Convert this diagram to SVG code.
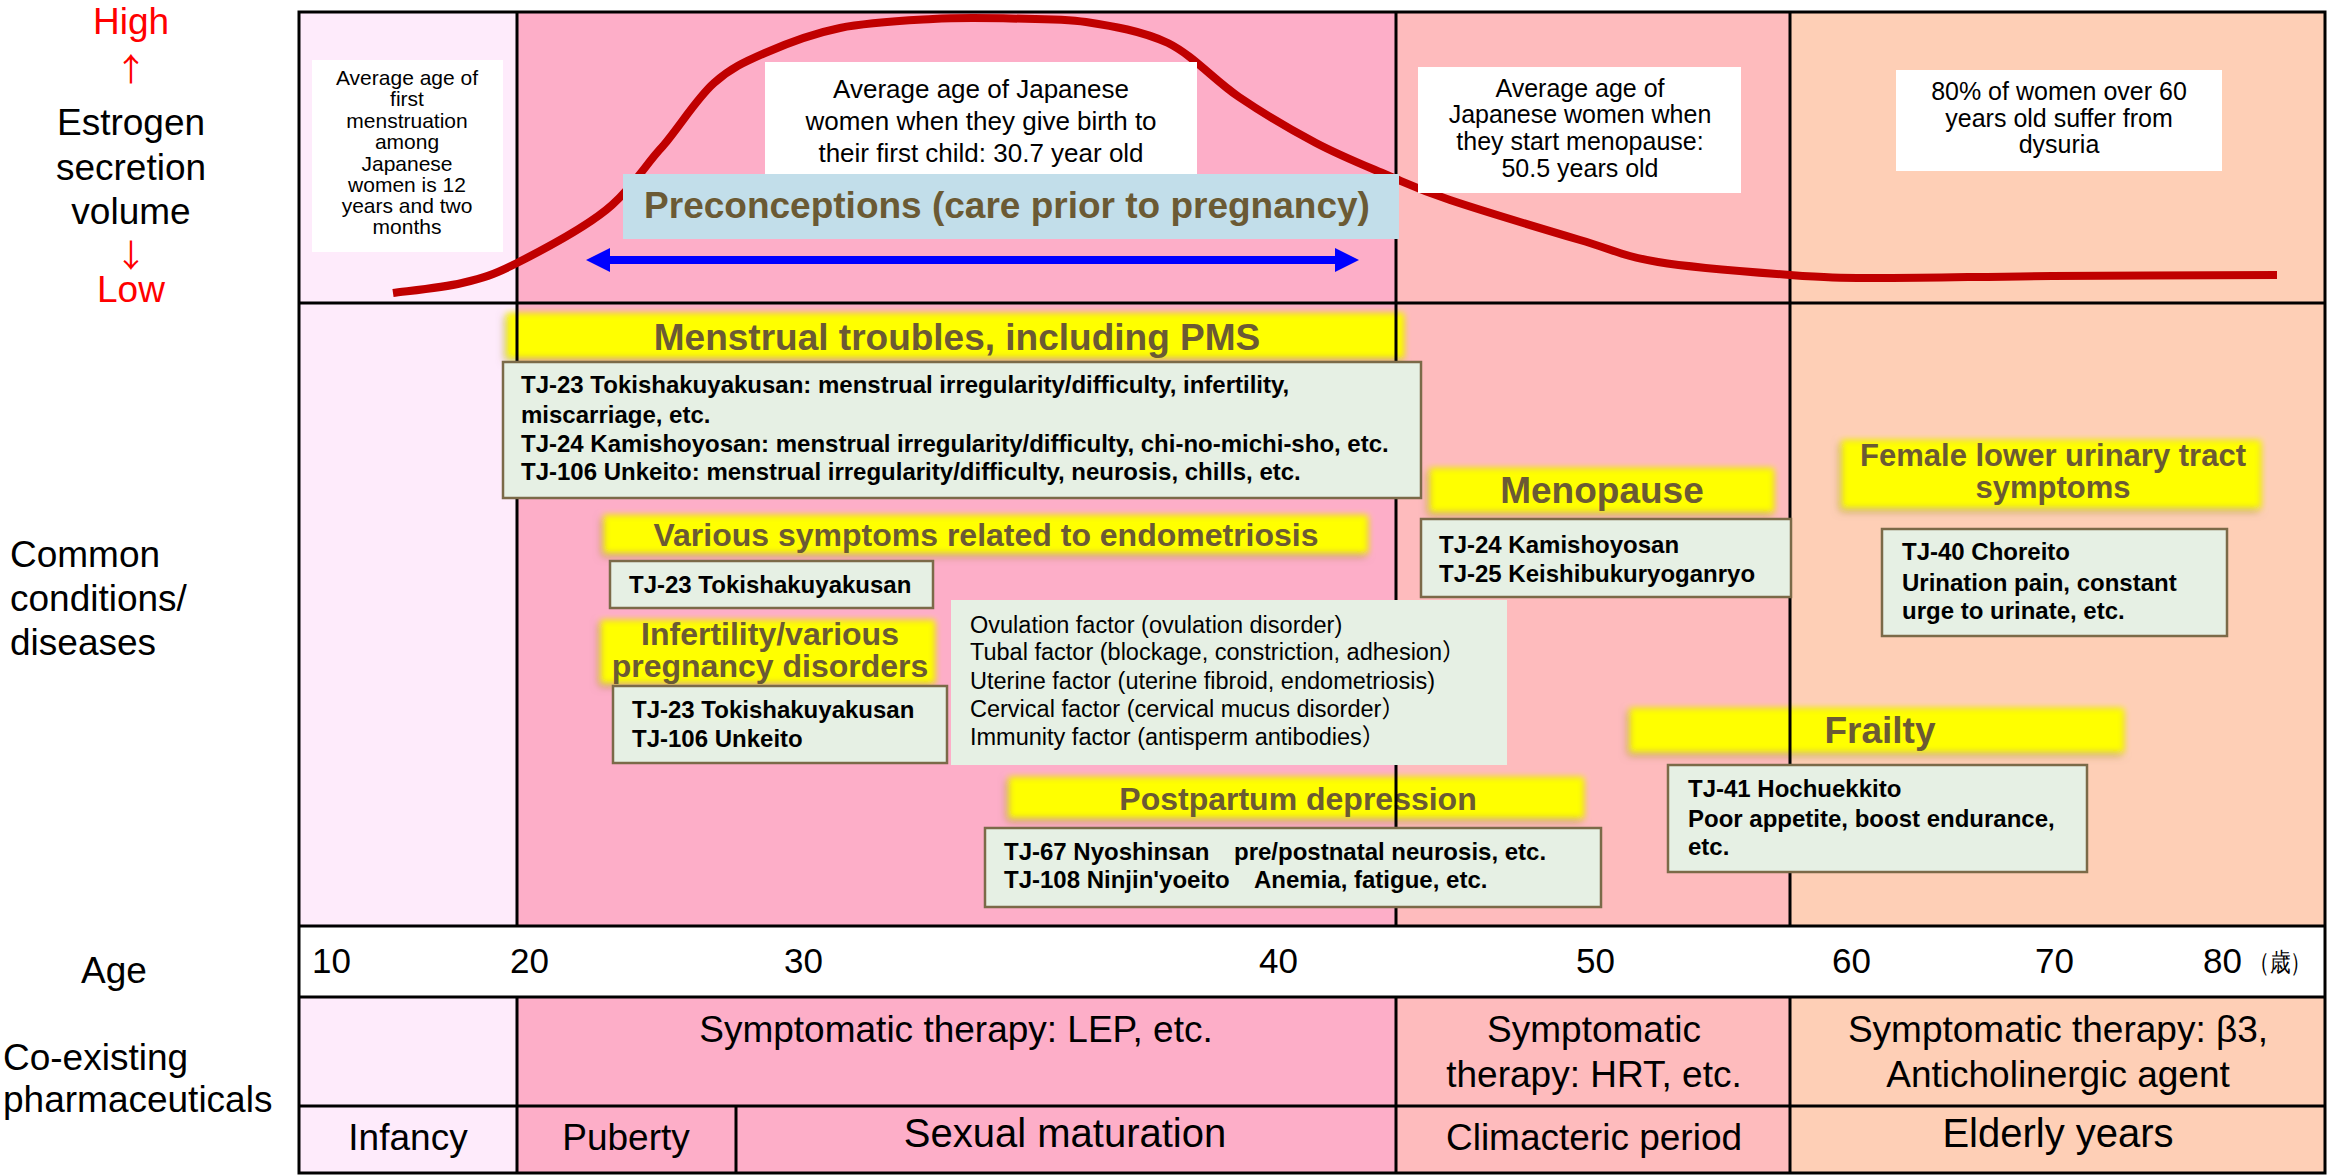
<svg xmlns="http://www.w3.org/2000/svg" width="2331" height="1175" viewBox="0 0 2331 1175">
<defs>
<style>
text{font-family:"Liberation Sans",Arial,sans-serif;fill:#000}
.lbl{font-size:37px}
.mid{text-anchor:middle}
.red{fill:#ff0000}
.arw{font-family:"Noto Sans CJK JP","Noto Sans CJK SC",sans-serif;font-size:32px}
.n21{font-size:21px}
.n26{font-size:26px}
.n25{font-size:25px}
.hlr{fill:#ffff00;filter:url(#glow)}
.hlt{font-weight:bold;fill:#6b5a34;text-anchor:middle}
.gb{fill:#e6f0e4;stroke:#7b6a48;stroke-width:2.5}
.gt{font-size:24px;font-weight:bold}
.ft{font-size:23.5px}
.grid{stroke:#000;stroke-width:3;fill:none}
.wb{fill:#ffffff}
.age{font-size:35px}
.c1{fill:#feebfb}.c2{fill:#fdaec8}.c3{fill:#febbbd}.c4{fill:#fecfb6}
</style>
<filter id="glow" x="-6%" y="-45%" width="112%" height="200%">
<feGaussianBlur in="SourceAlpha" stdDeviation="4" result="b"/>
<feOffset in="b" dx="-2" dy="3" result="o"/>
<feFlood flood-color="#7a6a30" flood-opacity="0.55"/>
<feComposite in2="o" operator="in" result="s"/>
<feGaussianBlur in="SourceGraphic" stdDeviation="3" result="y"/>
<feMerge><feMergeNode in="s"/><feMergeNode in="y"/></feMerge>
</filter>
<marker id="ah" viewBox="0 0 24 24" markerWidth="24" markerHeight="24" refX="0" refY="12" orient="auto-start-reverse" markerUnits="userSpaceOnUse">
<path d="M0,0 L24,12 L0,24 z" fill="#0000ff"/>
</marker>
</defs>

<g id="backgrounds">
<rect class="c1" x="299" y="12" width="218" height="914"/>
<rect class="c2" x="517" y="12" width="879" height="914"/>
<rect class="c3" x="1396" y="12" width="394" height="914"/>
<rect class="c4" x="1790" y="12" width="535" height="914"/>
<rect class="wb" x="299" y="926" width="2026" height="71"/>
<rect class="c1" x="299" y="997" width="218" height="176"/>
<rect class="c2" x="517" y="997" width="879" height="176"/>
<rect class="c3" x="1396" y="997" width="394" height="176"/>
<rect class="c4" x="1790" y="997" width="535" height="176"/>
</g>

<g id="row-labels">
<g id="label-estrogen">
<text class="lbl mid red" x="131" y="34">High</text>
<text class="arw mid red" x="131" y="81">↑</text>
<text class="lbl mid" x="131" y="135">Estrogen</text>
<text class="lbl mid" x="131" y="180">secretion</text>
<text class="lbl mid" x="131" y="224">volume</text>
<text class="arw mid red" x="131" y="267" font-size="30">↓</text>
<text class="lbl mid red" x="131" y="302">Low</text>
</g>
<g id="label-conditions">
<text class="lbl" x="10" y="567">Common</text>
<text class="lbl" x="10" y="611">conditions/</text>
<text class="lbl" x="10" y="655">diseases</text>
</g>
<g id="label-age"><text class="lbl mid" x="114" y="983">Age</text></g>
<g id="label-pharma">
<text class="lbl" x="3" y="1070">Co-existing</text>
<text class="lbl" x="3" y="1112">pharmaceuticals</text>
</g>
</g>

<g id="hl-menstrual"><rect class="hlr" x="507" y="313" width="897" height="45"/><text class="hlt" x="957" y="350" font-size="37">Menstrual troubles, including PMS</text></g>
<g id="hl-endometriosis"><rect class="hlr" x="604" y="515" width="764" height="38"/><text class="hlt" x="986" y="546" font-size="32">Various symptoms related to endometriosis</text></g>
<g id="hl-infertility"><rect class="hlr" x="601" y="620" width="334" height="63"/><text class="hlt" x="770" y="645" font-size="32">Infertility/various</text><text class="hlt" x="770" y="677" font-size="32">pregnancy disorders</text></g>
<g id="hl-postpartum"><rect class="hlr" x="1009" y="777" width="575" height="41"/><text class="hlt" x="1298" y="810" font-size="32">Postpartum depression</text></g>
<g id="hl-menopause"><rect class="hlr" x="1430" y="468" width="344" height="44"/><text class="hlt" x="1602" y="503" font-size="37">Menopause</text></g>
<g id="hl-urinary"><rect class="hlr" x="1842" y="440" width="419" height="68"/><text class="hlt" x="2053" y="466" font-size="31">Female lower urinary tract</text><text class="hlt" x="2053" y="498" font-size="31">symptoms</text></g>
<g id="hl-frailty"><rect class="hlr" x="1630" y="708" width="494" height="44"/><text class="hlt" x="1880" y="743" font-size="37">Frailty</text></g>

<g id="grid">
<rect class="grid" x="299" y="12" width="2026" height="1161"/>
<path class="grid" d="M299,303H2325M299,926H2325M299,997H2325M299,1106H2325"/>
<path class="grid" d="M517,12V926M517,997V1173M1396,12V926M1396,997V1173M1790,12V926M1790,997V1173M736,1106V1173"/>
</g>

<g id="curve-estrogen">
<path d="M393,293 C404.5,291.3 441.3,288 462,283 C482.7,278 492,275.7 517,263 C542,250.3 587.7,227 612,205 C636.3,183 646,163.7 663,146 C680,126 697,98 714,83 C731,68 744,62.2 765,53 C786,43.8 812,33.7 840,28 C868,22.3 904.7,20.7 933,19 C961.3,17.3 984.5,18 1010,18.5 C1035.5,19 1062,18.5 1086,22 C1112.3,26 1142.5,31 1168,43 C1193.5,55.7 1214.3,80.3 1239,97 C1263.7,113.7 1291.3,130 1316,143 C1340.7,156 1364.7,165.5 1387,175 C1409.3,184.5 1417.8,189.2 1450,200 C1482.2,210.8 1545.3,229.7 1580,240 C1614.7,250.3 1623,256.2 1658,262 C1693,267.8 1753,272.3 1790,275 C1827,277.7 1836.3,277.8 1880,278 C1923.7,278.2 1985.8,276.5 2052,276 C2118.2,275.5 2239.5,275.2 2277,275" fill="none" stroke="#c00000" stroke-width="8"/>
</g>

<g id="note-menarche">
<rect class="wb" x="312" y="60" width="191" height="192"/>
<text class="n21 mid" x="407" y="85">Average age of</text>
<text class="n21 mid" x="407" y="106">first</text>
<text class="n21 mid" x="407" y="128">menstruation</text>
<text class="n21 mid" x="407" y="149">among</text>
<text class="n21 mid" x="407" y="171">Japanese</text>
<text class="n21 mid" x="407" y="192">women is 12</text>
<text class="n21 mid" x="407" y="213">years and two</text>
<text class="n21 mid" x="407" y="234">months</text>
</g>
<g id="note-birth">
<rect class="wb" x="765" y="62" width="432" height="112"/>
<text class="n26 mid" x="981" y="98">Average age of Japanese</text>
<text class="n26 mid" x="981" y="130">women when they give birth to</text>
<text class="n26 mid" x="981" y="162">their first child: 30.7 year old</text>
</g>
<g id="note-menopause-age">
<rect class="wb" x="1418" y="67" width="323" height="126"/>
<text class="n25 mid" x="1580" y="97">Average age of</text>
<text class="n25 mid" x="1580" y="123">Japanese women when</text>
<text class="n25 mid" x="1580" y="150">they start menopause:</text>
<text class="n25 mid" x="1580" y="177">50.5 years old</text>
</g>
<g id="note-dysuria">
<rect class="wb" x="1896" y="70" width="326" height="101"/>
<text class="n25 mid" x="2059" y="100">80% of women over 60</text>
<text class="n25 mid" x="2059" y="127">years old suffer from</text>
<text class="n25 mid" x="2059" y="153">dysuria</text>
</g>
<g id="band-preconceptions">
<rect x="623" y="174" width="776" height="65" fill="#c2deea"/>
<text class="hlt" x="1007" y="218" font-size="37">Preconceptions (care prior to pregnancy)</text>
</g>

<g id="box-menstrual">
<rect class="gb" x="503" y="362" width="918" height="136"/>
<text class="gt" x="521" y="393">TJ-23 Tokishakuyakusan: menstrual irregularity/difficulty, infertility,</text>
<text class="gt" x="521" y="423">miscarriage, etc.</text>
<text class="gt" x="521" y="452">TJ-24 Kamishoyosan: menstrual irregularity/difficulty, chi-no-michi-sho, etc.</text>
<text class="gt" x="521" y="480">TJ-106 Unkeito: menstrual irregularity/difficulty, neurosis, chills, etc.</text>
</g>
<g id="box-endometriosis">
<rect class="gb" x="610" y="561" width="323" height="47"/>
<text class="gt" x="629" y="593">TJ-23 Tokishakuyakusan</text>
</g>
<g id="box-infertility">
<rect class="gb" x="613" y="686" width="334" height="77"/>
<text class="gt" x="632" y="718">TJ-23 Tokishakuyakusan</text>
<text class="gt" x="632" y="747">TJ-106 Unkeito</text>
</g>
<g id="box-factors">
<rect x="951" y="600" width="556" height="165" fill="#e6f0e4"/>
<text class="ft" x="970" y="633">Ovulation factor (ovulation disorder)</text>
<text class="ft" x="970" y="660">Tubal factor (blockage, constriction, adhesion<tspan font-family="'Noto Sans CJK JP',sans-serif">）</tspan></text>
<text class="ft" x="970" y="689">Uterine factor (uterine fibroid, endometriosis)</text>
<text class="ft" x="970" y="717">Cervical factor (cervical mucus disorder<tspan font-family="'Noto Sans CJK JP',sans-serif">）</tspan></text>
<text class="ft" x="970" y="745">Immunity factor (antisperm antibodies<tspan font-family="'Noto Sans CJK JP',sans-serif">）</tspan></text>
</g>
<g id="box-postpartum">
<rect class="gb" x="985" y="828" width="616" height="79"/>
<text class="gt" y="860"><tspan x="1004">TJ-67 Nyoshinsan</tspan><tspan x="1234">pre/postnatal neurosis, etc.</tspan></text>
<text class="gt" y="888"><tspan x="1004">TJ-108 Ninjin'yoeito</tspan><tspan x="1254">Anemia, fatigue, etc.</tspan></text>
</g>
<g id="box-menopause">
<rect class="gb" x="1421" y="519" width="370" height="78"/>
<text class="gt" x="1439" y="553">TJ-24 Kamishoyosan</text>
<text class="gt" x="1439" y="582">TJ-25 Keishibukuryoganryo</text>
</g>
<g id="box-urinary">
<rect class="gb" x="1882" y="529" width="345" height="107"/>
<text class="gt" x="1902" y="560">TJ-40 Choreito</text>
<text class="gt" x="1902" y="591">Urination pain, constant</text>
<text class="gt" x="1902" y="619">urge to urinate, etc.</text>
</g>
<g id="box-frailty">
<rect class="gb" x="1668" y="765" width="419" height="107"/>
<text class="gt" x="1688" y="797">TJ-41 Hochuekkito</text>
<text class="gt" x="1688" y="827">Poor appetite, boost endurance,</text>
<text class="gt" x="1688" y="855">etc.</text>
</g>

<g id="age-axis">
<text class="age" x="312" y="973">10</text>
<text class="age" x="510" y="973">20</text>
<text class="age" x="784" y="973">30</text>
<text class="age" x="1259" y="973">40</text>
<text class="age" x="1576" y="973">50</text>
<text class="age" x="1832" y="973">60</text>
<text class="age" x="2035" y="973">70</text>
<text class="age" x="2203" y="973">80</text>
<text x="2249" y="971" font-size="26" font-family="'Noto Sans CJK JP',sans-serif" textLength="62" lengthAdjust="spacingAndGlyphs">（歳）</text>
</g>

<g id="pharma-row">
<g id="pharma-lep"><text class="lbl mid" x="956" y="1042">Symptomatic therapy: LEP, etc.</text></g>
<g id="pharma-hrt"><text class="lbl mid" x="1594" y="1042">Symptomatic</text><text class="lbl mid" x="1594" y="1087">therapy: HRT, etc.</text></g>
<g id="pharma-b3"><text class="lbl mid" x="2058" y="1042">Symptomatic therapy: β3,</text><text class="lbl mid" x="2058" y="1087">Anticholinergic agent</text></g>
</g>

<g id="stage-row">
<g id="stage-infancy"><text class="lbl mid" x="408" y="1150">Infancy</text></g>
<g id="stage-puberty"><text class="lbl mid" x="626" y="1150">Puberty</text></g>
<g id="stage-sexual"><text class="mid" font-size="40" x="1065" y="1147">Sexual maturation</text></g>
<g id="stage-climacteric"><text class="lbl mid" x="1594" y="1150">Climacteric period</text></g>
<g id="stage-elderly"><text class="mid" font-size="40" x="2058" y="1147">Elderly years</text></g>
</g>

<g id="connectors">
<line x1="610" y1="260" x2="1335" y2="260" stroke="#0000ff" stroke-width="8" marker-start="url(#ah)" marker-end="url(#ah)"/>
</g>
</svg>
